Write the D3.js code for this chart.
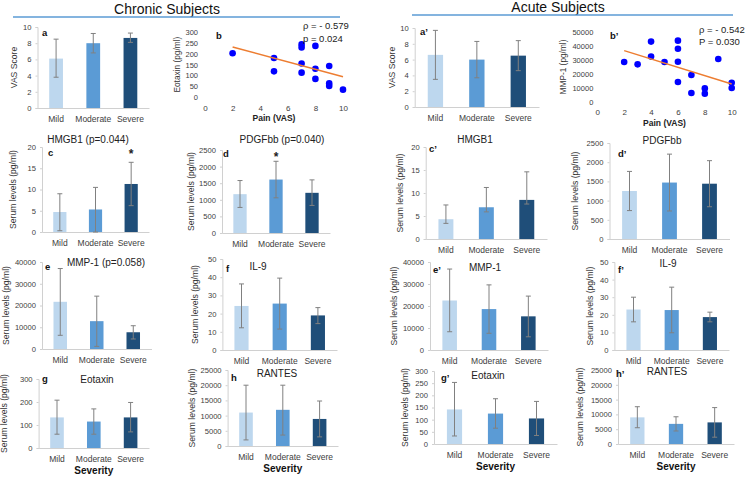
<!DOCTYPE html>
<html><head><meta charset="utf-8">
<script src="https://cdn.jsdelivr.net/npm/d3@7"></script>
<style>body{margin:0;background:#fff}svg{display:block}text{font-family:"Liberation Sans",Arial,sans-serif}</style>
</head><body><svg id="c" width="750" height="477"></svg>
<script>
const categories = ["Mild","Moderate","Severe"];
// Chronic
const vasChronic = [6.1, 8.0, 8.65], vasChronicLo = [3.8, 6.8, 8.1], vasChronicHi = [8.5, 9.2, 9.25];
const hmgbChronic = [4.7, 5.3, 11.3], hmgbChronicLo = [0.3, 0, 6.2], hmgbChronicHi = [9.0, 10.5, 16.4];
const pdgfChronic = [1170, 1610, 1210], pdgfChronicLo = [770, 1060, 830], pdgfChronicHi = [1580, 2160, 1600];
const mmpChronic = [21700, 12800, 7700], mmpChronicLo = [6300, 1200, 4600], mmpChronicHi = [37000, 24300, 10700];
const il9Chronic = [24.2, 25.5, 19.0], il9ChronicLo = [12.2, 11.5, 14.5], il9ChronicHi = [36.3, 39.5, 23.3];
const eotChronic = [133, 115, 133], eotChronicLo = [60, 60, 70], eotChronicHi = [208, 170, 198];
const rantesChronic = [11000, 11900, 8900], rantesChronicLo = [2000, 3600, 3000], rantesChronicHi = [20000, 20000, 14800];
// Acute
const vasAcute = [6.6, 6.0, 6.5], vasAcuteLo = [3.5, 3.7, 4.6], vasAcuteHi = [9.7, 8.3, 8.4];
const hmgbAcute = [4.3, 6.9, 8.5], hmgbAcuteLo = [3.4, 5.9, 7.6], hmgbAcuteHi = [7.4, 11.2, 14.6];
const pdgfAcute = [1250, 1470, 1440], pdgfAcuteLo = [740, 730, 840], pdgfAcuteHi = [1760, 2210, 2040];
const mmpAcute = [22500, 18600, 15300], mmpAcuteLo = [8300, 7600, 6000], mmpAcuteHi = [36800, 29600, 24500];
const il9Acute = [23.0, 22.7, 18.7], il9AcuteLo = [16, 9.8, 16], il9AcuteHi = [30, 35.7, 21.5];
const eotAcute = [142, 125, 105], eotAcuteLo = [33, 65, 35], eotAcuteHi = [253, 186, 175];
const rantesAcute = [9000, 6800, 7300], rantesAcuteLo = [5500, 4400, 2300], rantesAcuteHi = [12600, 9200, 12300];
// Scatter
const painChronic = [2,5,5,7,7,7,7,8,8,8,9,9,9,10];
const eotaxinByPain = [203,181,119,244,230,155,113,237,131,84,144,63,51,34];
const painAcute = [2,3,4,4,5,6,6,6,6,7,7,8,8,9,10,10];
const mmpByPain = [28600,26900,43300,32500,28600,44000,38200,28800,14200,19200,6250,9600,5800,30800,13700,9900];
const trendX = [2, 10];
const trendChronicY = [232, 94];
const trendAcuteY = [36800, 12700];
// Tick labels
const vasTicks = [0,2,4,6,8,10];
const hmgbTicks = [0,5,10,15,20];
const pdgfTicks = [0,500,1000,1500,2000,2500];
const mmpTicks = [0,10000,20000,30000,40000];
const il9Ticks = [0,10,20,30,40,50];
const eotChronicTicks = [0,100,200,300];
const eotAcuteTicks = [0,50,100,150,200,250,300];
const rantesTicks = [0,5000,10000,15000,20000,25000];
const eotScatterTicks = [0,50,100,150,200,250,300];
const mmpScatterTicks = [0,10000,20000,30000,40000,50000];
const painTicks = [0,2,4,6,8,10];

const colors = ["#BDD7EE","#5B9BD5","#1F4E79"];
const svg = d3.select("#c");
const fmt = d3.format("d");

function barPanel(o){
  const g = svg.append("g");
  const x = d3.scaleBand().domain(categories).range([o.left, o.right]).paddingInner(0.63).paddingOuter(0.315);
  const y = d3.scaleLinear().domain([0, o.ticks[o.ticks.length-1]]).range([o.bottom, o.top]);
  const ya = g.append("g").attr("transform",`translate(${o.left},0)`)
    .call(d3.axisLeft(y).tickValues(o.ticks).tickFormat(fmt).tickSize(2).tickPadding(4));
  ya.select(".domain").attr("stroke","#d0d0d0");
  ya.selectAll(".tick line").attr("stroke","#d0d0d0");
  ya.selectAll("text").attr("fill","#404040").style("font-size","7.6px");
  const xa = g.append("g").attr("transform",`translate(0,${o.bottom})`)
    .call(d3.axisBottom(x).tickSize(0).tickPadding(8));
  xa.select(".domain").attr("stroke","#d0d0d0");
  xa.selectAll("text").attr("fill","#404040").style("font-size","8.5px");
  g.selectAll("rect.bar").data(o.values).join("rect")
    .attr("x",(d,i)=>x(categories[i])).attr("width",x.bandwidth())
    .attr("y",d=>y(d)).attr("height",d=>o.bottom-y(d)).attr("fill",(d,i)=>colors[i]);
  const cx = i => x(categories[i]) + x.bandwidth()/2;
  o.values.forEach((v,i)=>{
    g.append("line").attr("x1",cx(i)).attr("x2",cx(i)).attr("y1",y(o.lo[i])).attr("y2",y(o.hi[i])).attr("stroke","#808080").attr("stroke-width",1);
    [o.lo[i],o.hi[i]].forEach(e=>g.append("line").attr("x1",cx(i)-2.5).attr("x2",cx(i)+2.5).attr("y1",y(e)).attr("y2",y(e)).attr("stroke","#808080").attr("stroke-width",1));
  });
  if(o.star!=null){
    g.append("text").attr("x",cx(o.star)).attr("y",o.top+11).attr("text-anchor","middle").style("font-size","12px").style("font-weight","bold").attr("fill","#222").text("*");
  }
  g.append("text").attr("x",o.tx).attr("y",o.ty).attr("text-anchor","middle").style("font-size","10px").attr("fill","#222").text(o.title);
  g.append("text").attr("x",o.lx).attr("y",o.ly).style("font-size","9.5px").style("font-weight","bold").attr("fill","#111").text(o.letter);
  g.append("text").attr("transform",`translate(${o.yl},${(o.top+o.bottom)/2}) rotate(-90)`).attr("text-anchor","middle")
    .style("font-size",o.ylSize||"8.6px").attr("fill","#333").text(o.ylabel);
  if(o.severity){
    g.append("text").attr("x",(o.left+o.right)/2).attr("y",o.bottom+26).attr("text-anchor","middle").style("font-size","10px").style("font-weight","bold").attr("fill","#111").text("Severity");
  }
}

function scatterPanel(o){
  const g = svg.append("g");
  const x = d3.scaleLinear().domain([0,10]).range([o.left,o.right]);
  const y = d3.scaleLinear().domain([0,o.ticks[o.ticks.length-1]]).range([o.bottom,o.top]);
  const ya = g.append("g").attr("transform",`translate(${o.left},0)`).call(d3.axisLeft(y).tickValues(o.ticks).tickFormat(fmt).tickSize(0).tickPadding(o.pad));
  ya.select(".domain").remove();
  ya.selectAll("text").attr("fill","#404040").style("font-size","7.5px");
  const xa = g.append("g").attr("transform",`translate(0,${o.bottom})`).call(d3.axisBottom(x).tickValues(painTicks).tickFormat(fmt).tickSize(0).tickPadding(8));
  xa.select(".domain").remove();
  xa.selectAll("text").attr("fill","#404040").style("font-size","8px");
  g.selectAll("circle").data(o.xs).join("circle").attr("cx",d=>x(d)).attr("cy",(d,i)=>y(o.ys[i])).attr("r",3.3).attr("fill","#0000FF");
  g.append("line").attr("x1",x(trendX[0])).attr("x2",x(trendX[1])).attr("y1",y(o.trend[0])).attr("y2",y(o.trend[1])).attr("stroke","#ED7D31").attr("stroke-width",1.5);
  g.append("text").attr("x",(o.left+o.right)/2).attr("y",o.bottom+24).attr("text-anchor","middle").style("font-size","8.5px").style("font-weight","bold").attr("fill","#222").text("Pain (VAS)");
  g.append("text").attr("transform",`translate(${o.yl},${(o.top+o.bottom)/2}) rotate(-90)`).attr("text-anchor","middle").style("font-size","8.3px").attr("fill","#333").text(o.ylabel);
  g.append("text").attr("x",o.lx).attr("y",o.ly).style("font-size","9.5px").style("font-weight","bold").attr("fill","#111").text(o.letter);
  g.append("text").attr("x",o.rx).attr("y",o.ry1).style("font-size","9.5px").attr("fill","#222").text(o.rho);
  g.append("text").attr("x",o.rx).attr("y",o.ry2).style("font-size","9.5px").attr("fill","#222").text(o.p);
}

svg.append("text").attr("x",167).attr("y",14).attr("text-anchor","middle").style("font-size","14px").attr("fill","#111").text("Chronic Subjects");
svg.append("line").attr("x1",13).attr("x2",340).attr("y1",17).attr("y2",17).attr("stroke","#5B9BD5").attr("stroke-width",1.5);
svg.append("text").attr("x",558).attr("y",12).attr("text-anchor","middle").style("font-size","14px").attr("fill","#111").text("Acute Subjects");
svg.append("line").attr("x1",412).attr("x2",733).attr("y1",15).attr("y2",15).attr("stroke","#5B9BD5").attr("stroke-width",1.5);

const SL = "Serum levels (pg/ml)";
barPanel({left:37.5,right:149,top:27,bottom:108,ticks:vasTicks,values:vasChronic,lo:vasChronicLo,hi:vasChronicHi,title:"",tx:0,ty:0,letter:"a",lx:42,ly:36,yl:17,ylabel:"VAS Score",ylSize:"8.6px"});
barPanel({left:42,right:149,top:147,bottom:232,ticks:hmgbTicks,values:hmgbChronic,lo:hmgbChronicLo,hi:hmgbChronicHi,star:2,title:"HMGB1 (p=0.044)",tx:88,ty:143,letter:"c",lx:48,ly:156,yl:16,ylabel:SL});
barPanel({left:222,right:330,top:150,bottom:233,ticks:pdgfTicks,values:pdgfChronic,lo:pdgfChronicLo,hi:pdgfChronicHi,star:1,title:"PDGFbb (p=0.040)",tx:282,ty:143,letter:"d",lx:223,ly:157,yl:194,ylabel:SL});
barPanel({left:42,right:151.5,top:262,bottom:349,ticks:mmpTicks,values:mmpChronic,lo:mmpChronicLo,hi:mmpChronicHi,title:"MMP-1 (p=0.058)",tx:106,ty:266,letter:"e",lx:45,ly:270,yl:9,ylabel:SL});
barPanel({left:222.4,right:337,top:259,bottom:350,ticks:il9Ticks,values:il9Chronic,lo:il9ChronicLo,hi:il9ChronicHi,title:"IL-9",tx:258,ty:270,letter:"f",lx:226,ly:272,yl:198,ylabel:SL});
barPanel({left:38.6,right:149,top:379,bottom:448,ticks:eotChronicTicks,values:eotChronic,lo:eotChronicLo,hi:eotChronicHi,title:"Eotaxin",tx:97,ty:383,letter:"g",lx:42,ly:382,yl:7,ylabel:SL,severity:true});
barPanel({left:227.6,right:338,top:370,bottom:446,ticks:rantesTicks,values:rantesChronic,lo:rantesChronicLo,hi:rantesChronicHi,title:"RANTES",tx:277,ty:377,letter:"h",lx:231,ly:381,yl:195,ylabel:SL,severity:true});
barPanel({left:414.7,right:539,top:28,bottom:107,ticks:vasTicks,values:vasAcute,lo:vasAcuteLo,hi:vasAcuteHi,title:"",tx:0,ty:0,letter:"a\u2019",lx:420,ly:35,yl:395,ylabel:"VAS Score",ylSize:"8.6px"});
barPanel({left:425.7,right:547,top:147,bottom:239,ticks:hmgbTicks,values:hmgbAcute,lo:hmgbAcuteLo,hi:hmgbAcuteHi,title:"HMGB1",tx:475,ty:143,letter:"c\u2019",lx:429,ly:152,yl:403,ylabel:SL});
barPanel({left:609.5,right:729.5,top:143,bottom:239,ticks:pdgfTicks,values:pdgfAcute,lo:pdgfAcuteLo,hi:pdgfAcuteHi,title:"PDGFbb",tx:662,ty:144,letter:"d\u2019",lx:618,ly:157,yl:578,ylabel:SL});
barPanel({left:430,right:548,top:262,bottom:350,ticks:mmpTicks,values:mmpAcute,lo:mmpAcuteLo,hi:mmpAcuteHi,title:"MMP-1",tx:485,ty:271,letter:"e\u2019",lx:433,ly:273,yl:397,ylabel:SL});
barPanel({left:614.4,right:729,top:262,bottom:350,ticks:il9Ticks,values:il9Acute,lo:il9AcuteLo,hi:il9AcuteHi,title:"IL-9",tx:668,ty:267,letter:"f\u2019",lx:618,ly:273,yl:593,ylabel:SL});
barPanel({left:434,right:557,top:371,bottom:444,ticks:eotAcuteTicks,values:eotAcute,lo:eotAcuteLo,hi:eotAcuteHi,title:"Eotaxin",tx:488,ty:379,letter:"g\u2019",lx:441,ly:381,yl:408,ylabel:SL,severity:true});
barPanel({left:618,right:734,top:370,bottom:444,ticks:rantesTicks,values:rantesAcute,lo:rantesAcuteLo,hi:rantesAcuteHi,title:"RANTES",tx:667,ty:375,letter:"h\u2019",lx:616,ly:377,yl:583,ylabel:SL,severity:true});
scatterPanel({left:205,right:343,top:32.3,bottom:97,ticks:eotScatterTicks,pad:7,xs:painChronic,ys:eotaxinByPain,trend:trendChronicY,ylabel:"Eotaxin  (pg/ml)",yl:180,letter:"b",lx:216,ly:39,rx:303,ry1:29,ry2:42,rho:"\u03C1 = - 0.579",p:"p = 0.024"});
scatterPanel({left:597.3,right:731.7,top:32.3,bottom:101.7,ticks:mmpScatterTicks,pad:4,xs:painAcute,ys:mmpByPain,trend:trendAcuteY,ylabel:"MMP-1 (pg/ml)",yl:566,letter:"b\u2019",lx:610,ly:39,rx:699,ry1:33,ry2:45,rho:"\u03C1 = - 0.542",p:"P = 0.030"});
</script></body></html>
